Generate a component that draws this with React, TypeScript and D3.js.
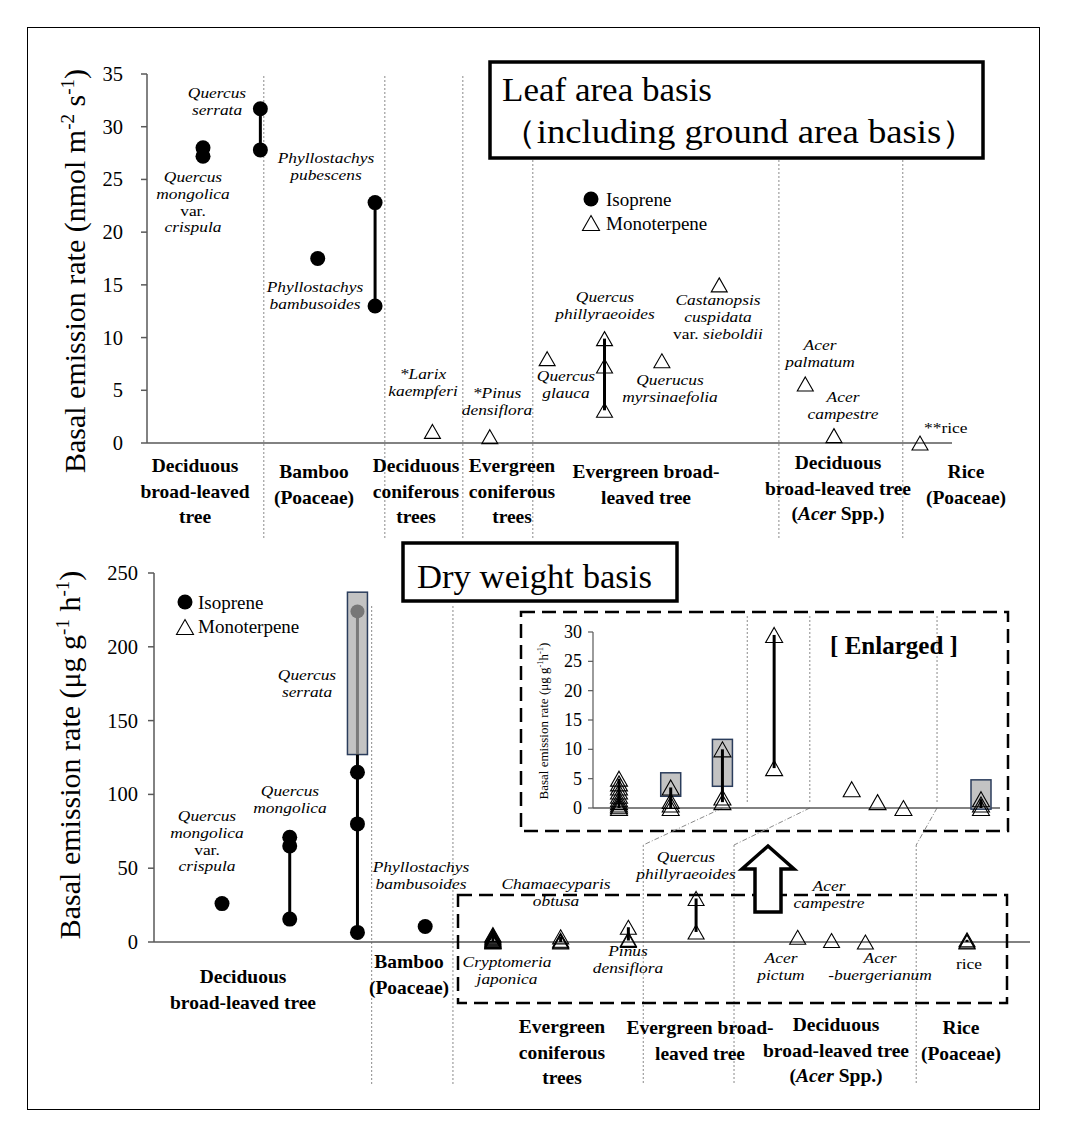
import React from 'react';
import * as d3 from 'd3';

// ===================== DATA =====================
// Leaf area basis (nmol m-2 s-1)
const leafIsoSpecies = ['Quercus mongolica var. crispula', 'Quercus serrata', 'Phyllostachys pubescens', 'Phyllostachys bambusoides'];
const leafIsoSlot = [0, 1, 2, 3];
const leafIsoValues = [[28.0, 27.2], [31.7, 27.8], [17.5], [22.8, 13.0]];

const leafMonoSpecies = ['Larix kaempferi', 'Pinus densiflora', 'Quercus glauca', 'Quercus phillyraeoides', 'Quercus myrsinaefolia', 'Castanopsis cuspidata var. sieboldii', 'Acer palmatum', 'Acer campestre', 'rice'];
const leafMonoSlot = [4, 5, 6, 7, 8, 9, 10.5, 11, 12.5];
const leafMonoValues = [[1.1], [0.6], [8.0], [9.9, 7.3, 3.1], [7.8], [15.0], [5.6], [0.7], [0]];

const leafTicks = [0, 5, 10, 15, 20, 25, 30, 35];
const leafSeparators = [1.06, 3.17, 4.53, 5.75, 10.04, 12.2];
const leafCategories = [
  ['Deciduous', 'broad-leaved', 'tree'],
  ['Bamboo', '(Poaceae)'],
  ['Deciduous', 'coniferous', 'trees'],
  ['Evergreen', 'coniferous', 'trees'],
  ['Evergreen broad-', 'leaved tree'],
  ['Deciduous', 'broad-leaved tree', '(Acer Spp.)'],
  ['Rice', '(Poaceae)'],
];

// Dry weight basis (ug g-1 h-1)
const dryIsoSpecies = ['Quercus mongolica var. crispula', 'Quercus mongolica', 'Quercus serrata', 'Phyllostachys bambusoides'];
const dryIsoSlot = [0, 1, 2, 3];
const dryIsoValues = [[26], [71, 65, 15.5], [115, 80, 6.5], [10.5]];
const drySerrataMax = 224;
const drySerrataBox = [127, 237];

const dryMonoSpecies = ['Cryptomeria japonica', 'Chamaecyparis obtusa', 'Pinus densiflora', 'Quercus phillyraeoides', 'Acer pictum', 'Acer campestre', 'Acer buergerianum', 'rice'];
const dryMonoSlot = [4, 5, 6, 7, 8.5, 9, 9.5, 11];
const dryMonoValues = [
  [0, 0.3, 0.6, 1.0, 1.5, 2.1, 2.8, 3.5, 4.2, 5.0],
  [0, 0.6, 1.2, 3.5],
  [1.0, 1.8, 10.0],
  [6.8, 29.5],
  [3.2],
  [1.0],
  [0],
  [0, 0.6, 1.5],
];
const dryBoxSlot = [5, 6, 11];
const dryBoxLo = [2.0, 3.7, -0.2];
const dryBoxHi = [6.0, 11.7, 4.8];

const dryTicks = [0, 50, 100, 150, 200, 250];
const insetTicks = [0, 5, 10, 15, 20, 25, 30];
const drySeparators = [2.21, 3.41, 6.22, 7.56, 10.25];
const insetSeparators = [6.48, 7.69, 10.15];
const connectorInset = [6.0, 7.69, 10.15];
const connectorMain = [6.22, 7.56, 10.25];
const dryCategories = [
  ['Deciduous', 'broad-leaved tree'],
  ['Bamboo', '(Poaceae)'],
  ['Evergreen', 'coniferous', 'trees'],
  ['Evergreen broad-', 'leaved tree'],
  ['Deciduous', 'broad-leaved tree', '(Acer Spp.)'],
  ['Rice', '(Poaceae)'],
];

// ===================== RENDER =====================
const FONT = "'Liberation Serif','Times New Roman',serif";
const AXIS = '#595959';
const SEP = '#8a8a8a';
const BOX_FILL = '#c3c3c3';
const BOX_STROKE = '#2b3d5c';

function tri(cx: number, cy: number, w = 16, h = 14) {
  return `M${cx},${cy - h / 2}L${cx + w / 2},${cy + h / 2}L${cx - w / 2},${cy + h / 2}Z`;
}

type Seg = { t: string; i?: boolean };
// species labels: slightly condensed height, widened horizontally (like the reference)
function Label({ x, y, lines, lh = 16.8, size = 15, sx = 1.16, anchor = 'middle', italic = true, bold = false }: any) {
  return (
    <g transform={`translate(${x},${y}) scale(${sx},1)`}>
      {lines.map((ln: any, k: number) => {
        const segs: Seg[] = typeof ln === 'string' ? [{ t: ln, i: italic }] : ln;
        const common = {
          x: 0, y: k * lh, fontSize: size, fontFamily: FONT, textAnchor: anchor,
          fontWeight: bold ? 'bold' : 'normal',
        };
        if (segs.length === 1) {
          return <text key={k} {...common} fontStyle={segs[0].i ? 'italic' : 'normal'}>{segs[0].t}</text>;
        }
        return (
          <text key={k} {...common}>
            {segs.map((s, j) => (
              <tspan key={j} fontStyle={s.i ? 'italic' : 'normal'}>{s.t}</tspan>
            ))}
          </text>
        );
      })}
    </g>
  );
}

function catLines(lines: string[]) {
  return lines.map((l) =>
    l === '(Acer Spp.)'
      ? [{ t: '(' }, { t: 'Acer', i: true }, { t: ' Spp.)' }]
      : [{ t: l }]
  );
}

export default function App() {
  const leafX = d3.scaleLinear().domain([0, 12.5]).range([203, 920]);
  const leafY = d3.scaleLinear().domain([0, 35]).range([443, 74]);
  const dryX = d3.scaleLinear().domain([0, 11]).range([222, 967]);
  const dryY = d3.scaleLinear().domain([0, 250]).range([942, 573]);
  const insX = d3.scaleLinear().domain([4, 11]).range([619, 981]);
  const insY = d3.scaleLinear().domain([0, 30]).range([808, 632]);

  const leafCatPos = [
    { x: 195, y: 472 }, { x: 314, y: 478 }, { x: 416, y: 472 }, { x: 512, y: 472 },
    { x: 646, y: 478 }, { x: 838, y: 469 }, { x: 966, y: 478 },
  ];
  const dryCatPos = [
    { x: 243, y: 983 }, { x: 409, y: 968 }, { x: 562, y: 1033 }, { x: 700, y: 1034 },
    { x: 836, y: 1031 }, { x: 961, y: 1034 },
  ];

  const leafLabels = [
    { x: 217, y: 98, lines: ['Quercus', 'serrata'] },
    { x: 193, y: 182, lines: ['Quercus', 'mongolica', [{ t: 'var.' }], 'crispula'] },
    { x: 326, y: 163, lines: ['Phyllostachys', 'pubescens'] },
    { x: 315, y: 292, lines: ['Phyllostachys', 'bambusoides'] },
    { x: 423, y: 379, lines: ['*Larix', 'kaempferi'] },
    { x: 497, y: 398, lines: ['*Pinus', 'densiflora'] },
    { x: 566, y: 381, lines: ['Quercus', 'glauca'] },
    { x: 605, y: 302, lines: ['Quercus', 'phillyraeoides'] },
    { x: 670, y: 385, lines: ['Querucus', 'myrsinaefolia'] },
    { x: 718, y: 305, lines: ['Castanopsis', 'cuspidata', [{ t: 'var. ' }, { t: 'sieboldii', i: true }]] },
    { x: 820, y: 350, lines: ['Acer', 'palmatum'] },
    { x: 843, y: 402, lines: ['Acer', 'campestre'] },
  ];
  const dryLabels = [
    { x: 207, y: 821, lines: ['Quercus', 'mongolica', [{ t: 'var.' }], 'crispula'] },
    { x: 290, y: 796, lines: ['Quercus', 'mongolica'] },
    { x: 307, y: 680, lines: ['Quercus', 'serrata'] },
    { x: 421, y: 872, lines: ['Phyllostachys', 'bambusoides'] },
    { x: 556, y: 889, lines: ['Chamaecyparis', 'obtusa'] },
    { x: 507, y: 967, lines: ['Cryptomeria', 'japonica'] },
    { x: 628, y: 956, lines: ['Pinus', 'densiflora'] },
    { x: 686, y: 862, lines: ['Quercus', 'phillyraeoides'] },
    { x: 829, y: 891, lines: ['Acer', 'campestre'] },
    { x: 781, y: 963, lines: ['Acer', 'pictum'] },
    { x: 880, y: 963, lines: ['Acer', '-buergerianum'] },
  ];

  const sepDash = '2,2';

  return (
    <svg width={1066} height={1137} style={{ position: 'absolute', left: 0, top: 0, background: '#fff' }} fontFamily={FONT}>
      <rect x={0} y={0} width={1066} height={1137} fill="#fff" />
      <rect x={27.5} y={27.5} width={1012} height={1082} fill="none" stroke="#000" strokeWidth={1} />

      {/* ================= TOP PANEL ================= */}
      {leafSeparators.map((s, i) => (
        <line key={i} x1={leafX(s)} x2={leafX(s)} y1={76} y2={540} stroke={SEP} strokeWidth={1} strokeDasharray={sepDash} />
      ))}
      {/* title box */}
      <rect x={490} y={62} width={493} height={96} fill="#fff" stroke="#000" strokeWidth={3.5} />
      <text x={502} y={101} fontSize={33} textLength={210} lengthAdjust="spacingAndGlyphs">Leaf area basis</text>
      <text x={500} y={143} fontSize={33} textLength={478} lengthAdjust="spacingAndGlyphs">（including ground area basis）</text>

      {/* axes */}
      <line x1={147} x2={147} y1={leafY(35)} y2={leafY(0)} stroke={AXIS} strokeWidth={1.5} />
      <line x1={147} x2={952} y1={leafY(0)} y2={leafY(0)} stroke={AXIS} strokeWidth={1.5} />
      {leafTicks.map((t) => (
        <g key={t}>
          <line x1={141} x2={147} y1={leafY(t)} y2={leafY(t)} stroke={AXIS} strokeWidth={1.5} />
          <text x={123} y={leafY(t) + 7} fontSize={20.5} textAnchor="end">{t}</text>
        </g>
      ))}
      <text transform={`translate(85,271) rotate(-90)`} fontSize={30} textAnchor="middle">
        Basal emission rate (nmol m<tspan dy={-11} fontSize={19}>-2</tspan><tspan dy={11}> s</tspan><tspan dy={-11} fontSize={19}>-1</tspan><tspan dy={11}>)</tspan>
      </text>

      {/* isoprene leaf */}
      {leafIsoValues.map((vals, i) => (
        <g key={leafIsoSpecies[i]}>
          {vals.length > 1 && (
            <line x1={leafX(leafIsoSlot[i])} x2={leafX(leafIsoSlot[i])} y1={leafY(d3.min(vals)!)} y2={leafY(d3.max(vals)!)} stroke="#000" strokeWidth={3} />
          )}
          {vals.map((v, j) => (
            <circle key={j} cx={leafX(leafIsoSlot[i])} cy={leafY(v)} r={7.5} fill="#000" />
          ))}
        </g>
      ))}
      {/* monoterpene leaf */}
      {leafMonoValues.map((vals, i) => (
        <g key={leafMonoSpecies[i]}>
          {vals.length > 1 && (
            <line x1={leafX(leafMonoSlot[i])} x2={leafX(leafMonoSlot[i])} y1={leafY(d3.min(vals)!)} y2={leafY(d3.max(vals)!)} stroke="#000" strokeWidth={3} />
          )}
          {vals.map((v, j) => (
            <path key={j} d={tri(leafX(leafMonoSlot[i]), leafY(v))} fill="none" stroke="#000" strokeWidth={1.1} />
          ))}
        </g>
      ))}
      {leafLabels.map((l, i) => <Label key={i} {...l} />)}
      <Label x={924} y={433} lines={['**rice']} italic={false} anchor="start" />

      {/* legend top */}
      <circle cx={591} cy={199} r={7.5} fill="#000" />
      <text x={606} y={205.5} fontSize={19}>Isoprene</text>
      <path d={tri(591, 223, 17, 15)} fill="none" stroke="#000" strokeWidth={1.1} />
      <text x={606} y={230} fontSize={19}>Monoterpene</text>

      {leafCategories.map((c, i) => (
        <Label key={i} x={leafCatPos[i].x} y={leafCatPos[i].y} lines={catLines(c)} lh={25.5} size={19.5} sx={1.0} bold italic={false} />
      ))}

      {/* ================= BOTTOM PANEL ================= */}
      <line x1={dryX(drySeparators[0])} x2={dryX(drySeparators[0])} y1={606} y2={1085} stroke={SEP} strokeWidth={1} strokeDasharray={sepDash} />
      <line x1={dryX(drySeparators[1])} x2={dryX(drySeparators[1])} y1={606} y2={1085} stroke={SEP} strokeWidth={1} strokeDasharray={sepDash} />
      {drySeparators.slice(2).map((s, i) => (
        <line key={i} x1={dryX(s)} x2={dryX(s)} y1={845} y2={1085} stroke={SEP} strokeWidth={1} strokeDasharray={sepDash} />
      ))}

      <rect x={403} y={543} width={274} height={58} fill="#fff" stroke="#000" strokeWidth={3.5} />
      <text x={417} y={588} fontSize={33} textLength={235} lengthAdjust="spacingAndGlyphs">Dry weight basis</text>

      {/* axes */}
      <line x1={154} x2={154} y1={dryY(250)} y2={dryY(0)} stroke={AXIS} strokeWidth={1.5} />
      <line x1={154} x2={1030} y1={dryY(0)} y2={dryY(0)} stroke={AXIS} strokeWidth={1.5} />
      {dryTicks.map((t) => (
        <g key={t}>
          <line x1={148} x2={154} y1={dryY(t)} y2={dryY(t)} stroke={AXIS} strokeWidth={1.5} />
          <text x={138} y={dryY(t) + 7} fontSize={20.5} textAnchor="end">{t}</text>
        </g>
      ))}
      <text transform={`translate(80,755) rotate(-90)`} fontSize={30} textAnchor="middle">
        Basal emission rate (μg g<tspan dy={-11} fontSize={19}>-1</tspan><tspan dy={11}> h</tspan><tspan dy={-11} fontSize={19}>-1</tspan><tspan dy={11}>)</tspan>
      </text>

      {/* serrata gray range */}
      <rect x={dryX(2) - 10} y={dryY(drySerrataBox[1])} width={20} height={dryY(drySerrataBox[0]) - dryY(drySerrataBox[1])} fill={BOX_FILL} stroke={BOX_STROKE} strokeWidth={1.5} />
      <line x1={dryX(2)} x2={dryX(2)} y1={dryY(drySerrataBox[0])} y2={dryY(drySerrataMax)} stroke="#7a7a7a" strokeWidth={3} />
      <circle cx={dryX(2)} cy={dryY(drySerrataMax)} r={7} fill="#777" />

      {dryIsoValues.map((vals, i) => (
        <g key={dryIsoSpecies[i]}>
          {vals.length > 1 && (
            <line x1={dryX(dryIsoSlot[i])} x2={dryX(dryIsoSlot[i])} y1={dryY(d3.min(vals)!)} y2={i === 2 ? dryY(drySerrataBox[0]) : dryY(d3.max(vals)!)} stroke="#000" strokeWidth={3} />
          )}
          {vals.map((v, j) => (
            <circle key={j} cx={dryX(dryIsoSlot[i])} cy={dryY(v)} r={7.5} fill="#000" />
          ))}
        </g>
      ))}
      {dryMonoValues.map((vals, i) => (
        <g key={dryMonoSpecies[i]}>
          {vals.length > 1 && (
            <line x1={dryX(dryMonoSlot[i])} x2={dryX(dryMonoSlot[i])} y1={dryY(d3.min(vals)!)} y2={dryY(d3.max(vals)!)} stroke="#000" strokeWidth={3} />
          )}
          {vals.map((v, j) => (
            <path key={j} d={tri(dryX(dryMonoSlot[i]), dryY(v))} fill="none" stroke="#000" strokeWidth={1.1} />
          ))}
        </g>
      ))}
      {dryLabels.map((l, i) => <Label key={i} {...l} />)}
      <Label x={969} y={969} lines={['rice']} italic={false} />

      {/* legend bottom */}
      <circle cx={185} cy={602} r={7.5} fill="#000" />
      <text x={198} y={608.5} fontSize={19}>Isoprene</text>
      <path d={tri(185, 627, 17, 15)} fill="none" stroke="#000" strokeWidth={1.1} />
      <text x={198} y={633} fontSize={19}>Monoterpene</text>

      {dryCategories.map((c, i) => (
        <Label key={i} x={dryCatPos[i].x} y={dryCatPos[i].y} lines={catLines(c)} lh={25.5} size={19.5} sx={1.0} bold italic={false} />
      ))}

      {/* lower dashed box */}
      <rect x={458} y={895} width={549} height={108} fill="none" stroke="#000" strokeWidth={2.5} strokeDasharray="14,7" />

      {/* ================= INSET ================= */}
      <rect x={521} y={612} width={487} height={219} fill="none" stroke="#000" strokeWidth={2.5} strokeDasharray="14,7" />
      {insetSeparators.map((s, i) => (
        <line key={i} x1={insX(s)} x2={insX(s)} y1={616} y2={insY(0) - 4} stroke={SEP} strokeWidth={1} strokeDasharray={sepDash} />
      ))}
      {connectorInset.map((s, i) => (
        <line key={i} x1={insX(s)} y1={insY(0)} x2={dryX(connectorMain[i])} y2={845} stroke={SEP} strokeWidth={1} strokeDasharray="5,2,1,2" />
      ))}
      <line x1={593} x2={593} y1={insY(30)} y2={insY(0)} stroke={AXIS} strokeWidth={1.2} />
      <line x1={593} x2={1000} y1={insY(0)} y2={insY(0)} stroke={AXIS} strokeWidth={1.5} />
      {insetTicks.map((t) => (
        <g key={t}>
          <line x1={588} x2={593} y1={insY(t)} y2={insY(t)} stroke={AXIS} strokeWidth={1.2} />
          <text x={582} y={insY(t) + 6} fontSize={18} textAnchor="end">{t}</text>
        </g>
      ))}
      <text transform={`translate(548,721) rotate(-90)`} fontSize={13} textAnchor="middle">
        Basal emission rate (μg g<tspan dy={-5} fontSize={8.5}>-1</tspan><tspan dy={5}>h</tspan><tspan dy={-5} fontSize={8.5}>-1</tspan><tspan dy={5}>)</tspan>
      </text>
      <text x={894} y={654} fontSize={25} fontWeight="bold" textAnchor="middle">[ Enlarged ]</text>

      {dryBoxSlot.map((s, i) => (
        <rect key={i} x={insX(s) - 10} y={insY(dryBoxHi[i])} width={20} height={insY(dryBoxLo[i]) - insY(dryBoxHi[i])} fill={BOX_FILL} stroke={BOX_STROKE} strokeWidth={1.5} />
      ))}
      {dryMonoValues.map((vals, i) => (
        <g key={'ins' + i}>
          {vals.length > 1 && (
            <line x1={insX(dryMonoSlot[i])} x2={insX(dryMonoSlot[i])} y1={insY(d3.min(vals)!)} y2={insY(d3.max(vals)!)} stroke="#000" strokeWidth={3} />
          )}
          {vals.map((v, j) => (
            <path key={j} d={tri(insX(dryMonoSlot[i]), insY(v), 17, 15)} fill="none" stroke="#000" strokeWidth={1.1} />
          ))}
        </g>
      ))}

      {/* big hollow arrow */}
      <path d="M768,846 L794,869 L781,869 L781,912 L755,912 L755,869 L742,869 Z" fill="#fff" stroke="#000" strokeWidth={3.5} strokeLinejoin="miter" />
    </svg>
  );
}
